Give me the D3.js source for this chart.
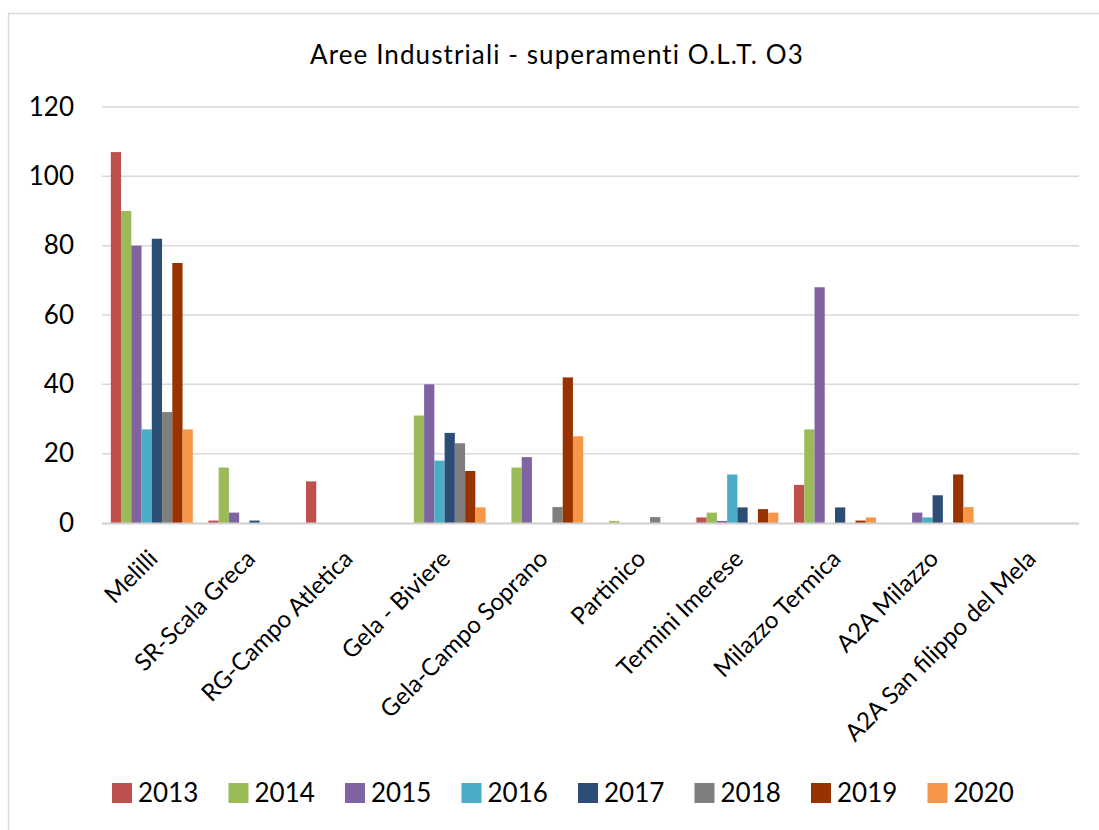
<!DOCTYPE html>
<html>
<head>
<meta charset="utf-8">
<script src="https://cdn.jsdelivr.net/npm/d3@7"></script>
<style>
  html, body { margin: 0; padding: 0; background: #fff; }
  svg { display: block; }
  text { font-family: Lato, "Open Sans", sans-serif; fill: #000; }
</style>
</head>
<body>
<svg id="chart" width="1099" height="830"></svg>
<script>
const title = "Aree Industriali - superamenti O.L.T. O3";
const categories = ["Melilli", "SR-Scala Greca", "RG-Campo Atletica", "Gela - Biviere", "Gela-Campo Soprano", "Partinico", "Termini Imerese", "Milazzo Termica", "A2A Milazzo", "A2A San filippo del Mela"];
const years = ["2013", "2014", "2015", "2016", "2017", "2018", "2019", "2020"];
const s2013 = [107, 0.7, 12, 0, 0, 0, 1.6, 11, 0, 0];
const s2014 = [90, 16, 0, 31, 16, 0.6, 3, 27, 0, 0];
const s2015 = [80, 3, 0, 40, 19, 0, 0.6, 68, 3, 0];
const s2016 = [27, 0, 0, 18, 0, 0, 14, 0, 1.6, 0];
const s2017 = [82, 0.7, 0, 26, 0, 0, 4.5, 4.5, 8, 0];
const s2018 = [32, 0, 0, 23, 4.6, 1.7, 0, 0, 0, 0];
const s2019 = [75, 0, 0, 15, 42, 0, 4, 0.7, 14, 0];
const s2020 = [27, 0, 0, 4.5, 25, 0, 3, 1.6, 4.6, 0];
const series = [s2013, s2014, s2015, s2016, s2017, s2018, s2019, s2020];
const colors = ["#C0504D", "#9BBB59", "#8064A2", "#4BACC6", "#2C4D75", "#7F7F7F", "#983300", "#F79646"];
const yTicks = [0, 20, 40, 60, 80, 100, 120];

const svg = d3.select("#chart");

// outer frame
svg.append("rect").attr("x", 8.5).attr("y", 13.5).attr("width", 1200).attr("height", 900)
  .attr("fill", "none").attr("stroke", "#d9d9d9").attr("stroke-width", 1.5);

const x0 = d3.scaleBand().domain(categories).range([103, 1079]);
const x1 = d3.scaleBand().domain(years).range([7.8, x0.bandwidth() - 7.8]);
const y = d3.scaleLinear().domain([0, 120]).range([523, 107]);

// gridlines
svg.append("g").selectAll("line").data(yTicks.filter(d => d !== 0)).join("line")
  .attr("x1", 102).attr("x2", 1079)
  .attr("y1", d => y(d)).attr("y2", d => y(d))
  .attr("stroke", "#d9d9d9").attr("stroke-width", 1.5);

// y axis labels
const yAxis = d3.axisLeft(y).tickValues(yTicks).tickSize(0).tickPadding(0).tickFormat(d3.format("d"));
const yg = svg.append("g").attr("transform", "translate(74,0)").call(yAxis);
yg.select(".domain").remove();
yg.selectAll("text").style("font-family", "Lato, 'Open Sans', sans-serif").style("font-size", "26px").attr("fill", "#000");

// bars
const groups = svg.append("g").selectAll("g").data(categories).join("g")
  .attr("transform", d => `translate(${x0(d)},0)`);
groups.selectAll("rect").data((c, i) => years.map((yr, k) => ({ yr, v: series[k][i], k })))
  .join("rect")
  .attr("x", d => x1(d.yr))
  .attr("width", x1.bandwidth())
  .attr("y", d => y(d.v))
  .attr("height", d => y(0) - y(d.v))
  .attr("fill", d => colors[d.k]);

// baseline
svg.append("line").attr("x1", 102).attr("x2", 1079).attr("y1", y(0) + 0.5).attr("y2", y(0) + 0.5)
  .attr("stroke", "#d0d0d0").attr("stroke-width", 2);

// x labels
const xAxis = d3.axisBottom(x0).tickSize(0).tickPadding(0);
const xg = svg.append("g").attr("transform", `translate(0,${y(0)})`).call(xAxis);
xg.select(".domain").remove();
xg.selectAll("text")
  .style("font-family", "Lato, 'Open Sans', sans-serif").style("font-size", "24px")
  .attr("text-anchor", "end")
  .attr("y", 0).attr("dy", "0.72em")
  .attr("transform", "translate(-5,25) rotate(-45)");

// title
svg.append("text").attr("x", 557).attr("y", 64).attr("text-anchor", "middle")
  .style("font-size", "26px").style("letter-spacing", "1.1px").text(title);

// legend
const legend = svg.append("g").selectAll("g").data(years).join("g")
  .attr("transform", (d, i) => `translate(${112 + i * 116.5},783)`);
legend.append("rect").attr("width", 20).attr("height", 20).attr("fill", (d, i) => colors[i]);
legend.append("text").attr("x", 26).attr("y", 19).style("font-size", "26px").text(d => d);
</script>
</body>
</html>
